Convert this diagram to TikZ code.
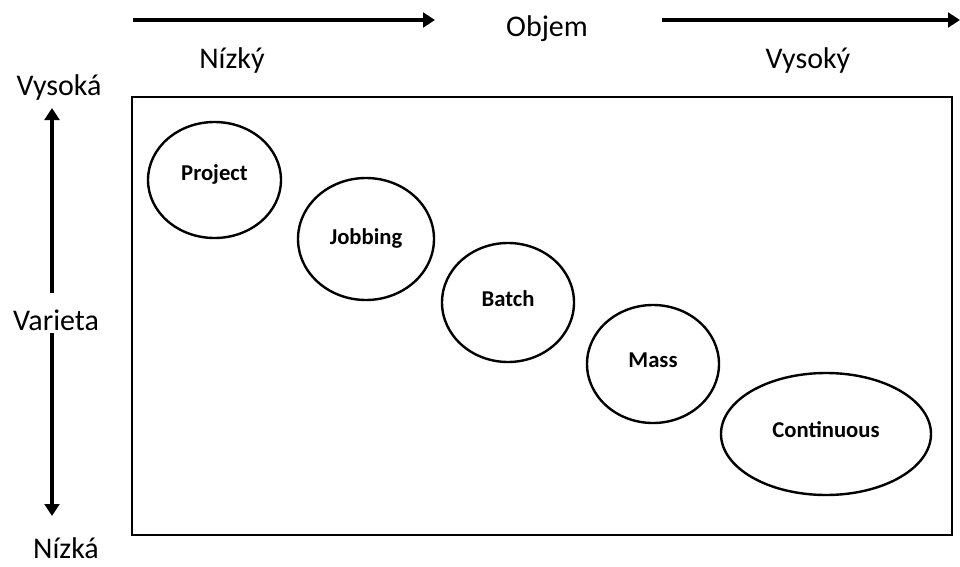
\documentclass[tikz,border=0pt]{standalone}
\usepackage{fontspec}
\setmainfont{Carlito}
\usetikzlibrary{shapes.geometric,arrows.meta}
\begin{document}
\begin{tikzpicture}[x=0.75pt,y=-0.75pt,
  axis/.style={line width=3pt,-{Triangle[length=9pt,width=11pt]}},
  lbl/.style={font=\fontsize{22.5}{26}\selectfont,inner sep=0pt,anchor=base},
  proc/.style={ellipse,draw,line width=1.8pt,inner sep=0pt,
    text height=0pt,text depth=0pt,
    font=\bfseries\fontsize{17}{20}\selectfont},
  frame/.style={draw,line width=1.6pt}]
\useasboundingbox (0,0) rectangle (960,567);

% volume axis
\node[lbl] (objem) at (547,37) {Objem};
\coordinate (vs) at (133,20);
\coordinate (ve) at (960,20);
\draw[axis] (vs) -- (435,20);
\draw[axis] (662,20) -- (ve);
\node[lbl] (vlow) at (232,69) {Nízký};
\node[lbl] (vhigh) at (808,69) {Vysoký};

% variety axis
\node[lbl] (vtop) at (59,95) {Vysoká};
\node[lbl] (var) at (56,330) {Varieta};
\node[lbl] (vbot) at (66,558) {Nízká};
\coordinate (uptip) at (52,108);
\coordinate (downtip) at (52,516);
\draw[axis] (52,293) -- (uptip);
\draw[axis] (52,333) -- (downtip);

% process frame
\draw[frame] (132,97) rectangle (952,535);

% process types (text baseline lowered from the centre)
\node[proc,minimum width=99.75pt,minimum height=87pt] (project) at (214.5,180) {\raisebox{-0.2pt}{Project}};
\node[proc,minimum width=102pt,minimum height=91.5pt] (jobbing) at (366,239) {\raisebox{-4pt}{Jobbing}};
\node[proc,minimum width=99pt,minimum height=89.25pt] (batch) at (508,302.5) {\raisebox{-2.85pt}{Batch}};
\node[proc,minimum width=99pt,minimum height=88.5pt] (mass) at (653,364) {\raisebox{-2.5pt}{Mass}};
\node[proc,minimum width=157.5pt,minimum height=91.5pt] (cont) at (826,434) {\raisebox{-2.5pt}{Continuous}};
\end{tikzpicture}
\end{document}
